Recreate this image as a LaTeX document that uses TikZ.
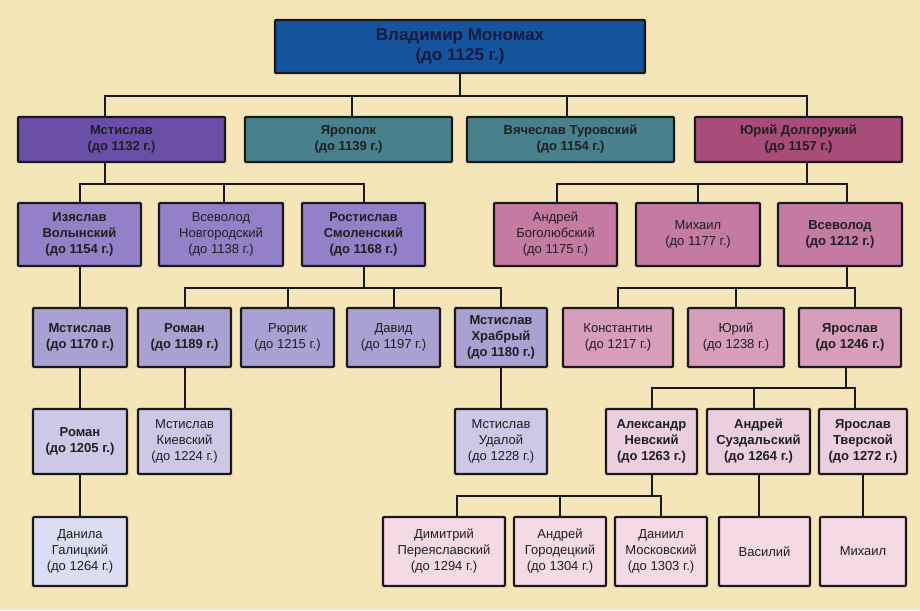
\documentclass[tikz,border=0pt]{standalone}
\usepackage{fontspec}
\setmainfont{Liberation Sans}
\definecolor{bgsand}{RGB}{245,230,185}
\definecolor{vladblue}{RGB}{22,84,158}
\definecolor{vladtext}{RGB}{22,26,60}
\definecolor{mstviolet}{RGB}{106,78,168}
\definecolor{tealson}{RGB}{72,128,142}
\definecolor{yurirose}{RGB}{168,76,122}
\definecolor{lilactwo}{RGB}{148,128,200}
\definecolor{rosetwo}{RGB}{196,122,162}
\definecolor{lilacthree}{RGB}{170,160,210}
\definecolor{rosethree}{RGB}{214,158,186}
\definecolor{lilacfour}{RGB}{204,200,230}
\definecolor{rosefour}{RGB}{234,208,222}
\definecolor{lilacfive}{RGB}{220,220,242}
\definecolor{rosefive}{RGB}{244,218,228}
\begin{document}
\begin{tikzpicture}[x=1pt,y=-1pt,
  person/.style={draw=black!90, line width=2.2pt, rounded corners=1pt, inner sep=0pt,
    align=center, text=black!88, font=\fontsize{13}{16}\selectfont},
  prince/.style={person, font=\fontsize{13}{16}\selectfont\bfseries},
  son/.style={prince, minimum width=207pt, minimum height=45pt},
  link/.style={draw=black!90, line width=2pt}]
\fill [bgsand] (0,0) rectangle (920,610);
\useasboundingbox (0,0) rectangle (920,610);

\node [prince, fill=vladblue, text=vladtext, minimum width=370pt, minimum height=53pt,
  font=\fontsize{17}{20.5}\selectfont\bfseries] (vlad) at (460,46.5) {Владимир Мономах\\(до 1125 г.)};

\node [son, fill=mstviolet] (mst) at (121.5,139.5) {Мстислав\\(до 1132 г.)};
\node [son, fill=tealson] (yarop) at (348.5,139.5) {Ярополк\\(до 1139 г.)};
\node [son, fill=tealson] (vyach) at (570.5,139.5) {Вячеслав Туровский\\(до 1154 г.)};
\node [son, fill=yurirose] (yuri) at (798.5,139.5) {Юрий Долгорукий\\(до 1157 г.)};

\node [prince, fill=lilactwo, minimum width=123pt, minimum height=63pt] (izya) at (79.5,234.5) {Изяслав\\Волынский\\(до 1154 г.)};
\node [person, fill=lilactwo, minimum width=124pt, minimum height=63pt] (vsevn) at (221,234.5) {Всеволод\\Новгородский\\(до 1138 г.)};
\node [prince, fill=lilactwo, minimum width=123pt, minimum height=63pt] (rost) at (363.5,234.5) {Ростислав\\Смоленский\\(до 1168 г.)};
\node [person, fill=rosetwo, minimum width=123pt, minimum height=63pt] (andb) at (555.5,234.5) {Андрей\\Боголюбский\\(до 1175 г.)};
\node [person, fill=rosetwo, minimum width=124pt, minimum height=63pt] (mikh) at (698,234.5) {Михаил\\(до 1177 г.)};
\node [prince, fill=rosetwo, minimum width=124pt, minimum height=63pt] (vsev) at (840,234.5) {Всеволод\\(до 1212 г.)};

\node [prince, fill=lilacthree, minimum width=94pt, minimum height=59pt] (mstb) at (80,337.5) {Мстислав\\(до 1170 г.)};
\node [prince, fill=lilacthree, minimum width=93pt, minimum height=59pt] (roma) at (184.5,337.5) {Роман\\(до 1189 г.)};
\node [person, fill=lilacthree, minimum width=93pt, minimum height=59pt] (ryur) at (287.5,337.5) {Рюрик\\(до 1215 г.)};
\node [person, fill=lilacthree, minimum width=93pt, minimum height=59pt] (david) at (393.5,337.5) {Давид\\(до 1197 г.)};
\node [prince, fill=lilacthree, minimum width=92pt, minimum height=59pt] (khrab) at (501,337.5) {Мстислав\\Храбрый\\(до 1180 г.)};
\node [person, fill=rosethree, minimum width=110pt, minimum height=59pt] (kons) at (618,337.5) {Константин\\(до 1217 г.)};
\node [person, fill=rosethree, minimum width=96pt, minimum height=59pt] (yurb) at (736,337.5) {Юрий\\(до 1238 г.)};
\node [prince, fill=rosethree, minimum width=102pt, minimum height=59pt] (yar) at (850,337.5) {Ярослав\\(до 1246 г.)};

\node [prince, fill=lilacfour, minimum width=94pt, minimum height=65pt] (romb) at (80,441.5) {Роман\\(до 1205 г.)};
\node [person, fill=lilacfour, minimum width=93pt, minimum height=65pt] (mkiev) at (184.5,441.5) {Мстислав\\Киевский\\(до 1224 г.)};
\node [person, fill=lilacfour, minimum width=92pt, minimum height=65pt] (mudal) at (501,441.5) {Мстислав\\Удалой\\(до 1228 г.)};
\node [prince, fill=rosefour, minimum width=91pt, minimum height=65pt] (alex) at (651.5,441.5) {Александр\\Невский\\(до 1263 г.)};
\node [prince, fill=rosefour, minimum width=103pt, minimum height=65pt] (ands) at (758.5,441.5) {Андрей\\Суздальский\\(до 1264 г.)};
\node [prince, fill=rosefour, minimum width=88pt, minimum height=65pt] (yart) at (863,441.5) {Ярослав\\Тверской\\(до 1272 г.)};

\node [person, fill=lilacfive, minimum width=94pt, minimum height=69pt] (danila) at (80,551.5) {Данила\\Галицкий\\(до 1264 г.)};
\node [person, fill=rosefive, minimum width=122pt, minimum height=69pt] (dim) at (444,551.5) {Димитрий\\Переяславский\\(до 1294 г.)};
\node [person, fill=rosefive, minimum width=92pt, minimum height=69pt] (andg) at (560,551.5) {Андрей\\Городецкий\\(до 1304 г.)};
\node [person, fill=rosefive, minimum width=92pt, minimum height=69pt] (daniil) at (661,551.5) {Даниил\\Московский\\(до 1303 г.)};
\node [person, fill=rosefive, minimum width=91pt, minimum height=69pt] (vas) at (764.5,551.5) {Василий};
\node [person, fill=rosefive, minimum width=86pt, minimum height=69pt] (mikhb) at (863,551.5) {Михаил};

\draw [link] (vlad.south) -- ++(0,22) -| ([xshift=-16.5pt]mst.north);
\draw [link] (vlad.south) -- ++(0,22) -| ([xshift=3.5pt]yarop.north);
\draw [link] (vlad.south) -- ++(0,22) -| ([xshift=-3.5pt]vyach.north);
\draw [link] (vlad.south) -- ++(0,22) -| ([xshift=8.5pt]yuri.north);

\draw [link] ([xshift=-16.5pt]mst.south) -- ++(0,21) -| (izya.north);
\draw [link] ([xshift=-16.5pt]mst.south) -- ++(0,21) -| ([xshift=3pt]vsevn.north);
\draw [link] ([xshift=-16.5pt]mst.south) -- ++(0,21) -| (rost.north);
\draw [link] ([xshift=8.5pt]yuri.south) -- ++(0,21) -| ([xshift=1.5pt]andb.north);
\draw [link] ([xshift=8.5pt]yuri.south) -- ++(0,21) -| (mikh.north);
\draw [link] ([xshift=8.5pt]yuri.south) -- ++(0,21) -| ([xshift=7pt]vsev.north);

\draw [link] (izya.south) -- (izya.south |- mstb.north);
\foreach \kid in {roma,ryur,david,khrab}
  \draw [link] (rost.south) -- ++(0,21) -| (\kid.north);
\draw [link] ([xshift=7pt]vsev.south) -- ++(0,21) -| (kons.north);
\draw [link] ([xshift=7pt]vsev.south) -- ++(0,21) -| (yurb.north);
\draw [link] ([xshift=7pt]vsev.south) -- ++(0,21) -| ([xshift=5pt]yar.north);

\draw [link] (mstb.south) -- (mstb.south |- romb.north);
\draw [link] (roma.south) -- (roma.south |- mkiev.north);
\draw [link] (khrab.south) -- (khrab.south |- mudal.north);
\draw [link] ([xshift=-4pt]yar.south) -- ++(0,20) -| (alex.north);
\draw [link] ([xshift=-4pt]yar.south) -- ++(0,20) -| ([xshift=-4.5pt]ands.north);
\draw [link] ([xshift=-4pt]yar.south) -- ++(0,20) -| ([xshift=-8pt]yart.north);

\draw [link] (romb.south) -- (romb.south |- danila.north);
\draw [link] (alex.south) -- ++(0,21) -| ([xshift=13pt]dim.north);
\draw [link] (alex.south) -- ++(0,21) -| (andg.north);
\draw [link] (alex.south) -- ++(0,21) -| (daniil.north);
\draw [link] (ands.south) -- (ands.south |- vas.north);
\draw [link] (yart.south) -- (yart.south |- mikhb.north);
\end{tikzpicture}
\end{document}
